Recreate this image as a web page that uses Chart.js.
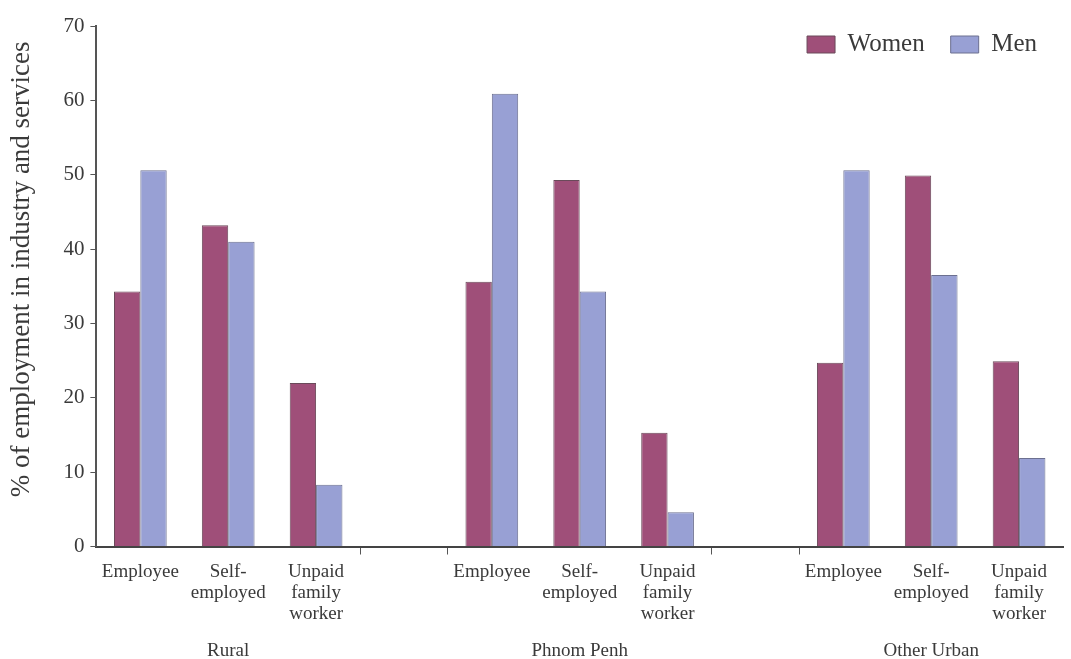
<!DOCTYPE html>
<html>
<head>
<meta charset="utf-8">
<script src="https://cdn.jsdelivr.net/npm/chart.js@4.4.1/dist/chart.umd.min.js"></script>
<style>
  body { margin: 0; background: #fff; }
</style>
</head>
<body>
<canvas id="myChart" width="1071" height="659"></canvas>
<script>
// categories, with an empty slot between the three areas
const categories = [
    'Employee', ['Self-', 'employed'], ['Unpaid', 'family', 'worker'], '',
    'Employee', ['Self-', 'employed'], ['Unpaid', 'family', 'worker'], '',
    'Employee', ['Self-', 'employed'], ['Unpaid', 'family', 'worker']
];
const groupLabels = ['', 'Rural', '', '', '', 'Phnom Penh', '', '', '', 'Other Urban', ''];

const women = [34.3, 43.2, 22.0, null, 35.6, 49.3, 15.3, null, 24.7, 49.9, 24.9];
const men = [50.6, 41.0, 8.3, null, 60.9, 34.3, 4.6, null, 50.6, 36.5, 11.9];

const yTicks = [0, 10, 20, 30, 40, 50, 60, 70];

const serif = '"Liberation Serif", "DejaVu Serif", serif';
const textColor = '#3a3a3a';
const axisColor = '#555';

// legend sits inside the plot, so it takes no layout room
const legendShiftY = -20;
const legendNoSpace = {
    id: 'legendNoSpace',
    beforeInit(chart) {
        const legend = chart.legend;
        const fit = legend.fit;
        const draw = legend.draw;
        legend.fit = function () {
            fit.call(this);
            this._realHeight = this.height;
            this.height = 0;
        };
        legend.draw = function () {
            const t = this.top, b = this.bottom;
            this.top = t + legendShiftY;
            this.bottom = this.top + this._realHeight;
            draw.call(this);
            this.top = t;
            this.bottom = b;
        };
    }
};

const ctx = document.getElementById('myChart').getContext('2d');
const myChart = new Chart(ctx, {
    type: 'bar',
    data: {
        labels: categories,
        datasets: [
            {
                label: 'Women',
                data: women,
                backgroundColor: '#9f4f79',
                borderColor: '#6a4a5a',
                borderWidth: 1,
                categoryPercentage: 0.6,
                barPercentage: 1.0
            },
            {
                label: 'Men',
                data: men,
                backgroundColor: '#98a0d4',
                borderColor: '#6c7090',
                borderWidth: 1,
                categoryPercentage: 0.6,
                barPercentage: 1.0
            }
        ]
    },
    options: {
        responsive: false,
        animation: false,
        layout: { padding: { top: 26, right: 8, left: 6, bottom: -3 } },
        plugins: {
            tooltip: { enabled: false },
            legend: {
                position: 'top',
                align: 'end',
                labels: {
                    font: { family: serif, size: 25 },
                    color: textColor,
                    boxWidth: 28,
                    boxHeight: 17,
                    padding: 26
                }
            }
        },
        scales: {
            x: {
                grid: {
                    drawOnChartArea: false,
                    drawTicks: true,
                    tickLength: 8,
                    tickColor: c => ([3, 4, 7, 8].includes(c.index) ? axisColor : 'rgba(0,0,0,0)')
                },
                border: { color: '#444', width: 2 },
                ticks: {
                    autoSkip: false,
                    maxRotation: 0,
                    color: textColor,
                    padding: 7,
                    font: { family: serif, size: 19, lineHeight: 1.1 }
                }
            },
            x2: {
                type: 'category',
                labels: groupLabels,
                offset: true,
                position: 'bottom',
                grid: { display: false },
                border: { display: false },
                ticks: {
                    autoSkip: false,
                    maxRotation: 0,
                    color: textColor,
                    padding: 0,
                    font: { family: serif, size: 19 }
                }
            },
            y: {
                min: 0,
                max: 70,
                afterBuildTicks: axis => { axis.ticks = yTicks.map(v => ({ value: v })); },
                grid: {
                    drawOnChartArea: false,
                    drawTicks: true,
                    tickLength: 6,
                    color: axisColor
                },
                border: { color: axisColor, width: 2 },
                ticks: {
                    color: textColor,
                    padding: 6,
                    font: { family: serif, size: 21 }
                },
                title: {
                    display: true,
                    text: '     % of employment in industry and services',
                    color: textColor,
                    font: { family: serif, size: 27 },
                    padding: { top: 0, bottom: 19 }
                }
            }
        }
    },
    plugins: [legendNoSpace]
});
</script>
</body>
</html>
